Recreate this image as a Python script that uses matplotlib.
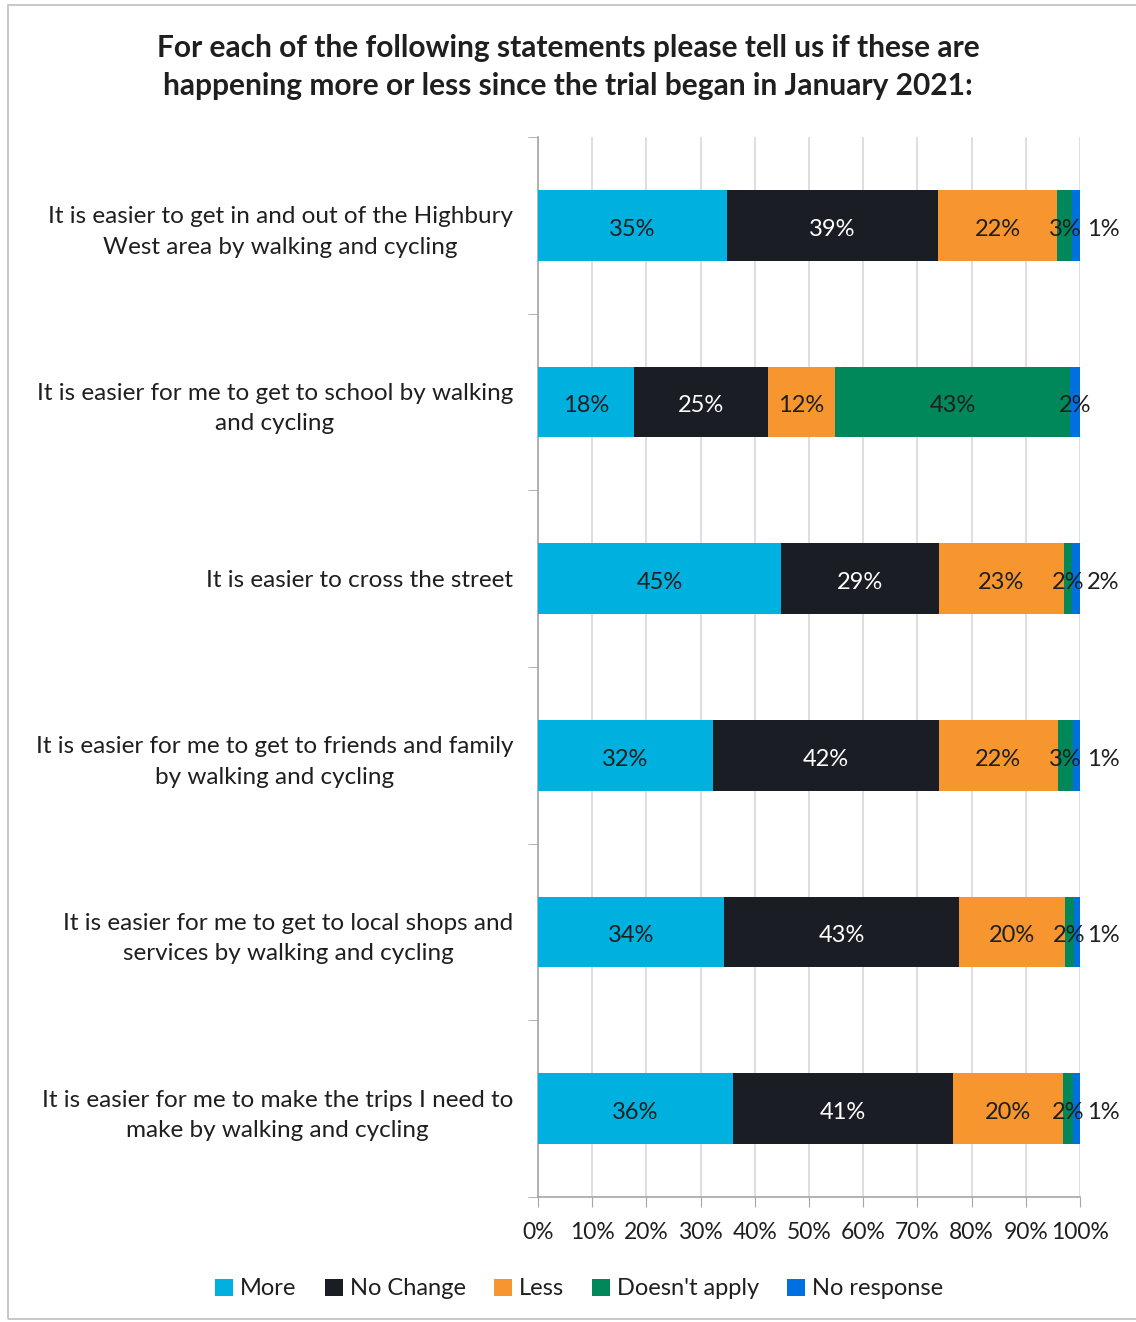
import matplotlib
matplotlib.use("Agg")
import matplotlib.pyplot as plt
from matplotlib.patches import Rectangle
import numpy as np

plt.rcParams['font.family'] = ['Lato', 'DejaVu Sans']

categories = [
    "It is easier to get in and out of the Highbury\nWest area by walking and cycling",
    "It is easier for me to get to school by walking\nand cycling",
    "It is easier to cross the street",
    "It is easier for me to get to friends and family\nby walking and cycling",
    "It is easier for me to get to local shops and\nservices by walking and cycling",
    "It is easier for me to make the trips I need to\nmake by walking and cycling",
]
series_names = ["More", "No Change", "Less", "Doesn't apply", "No response"]
more = [34.9, 17.7, 44.8, 32.3, 34.3, 36.0]
no_change = [38.9, 24.7, 29.2, 41.7, 43.4, 40.6]
less = [22.0, 12.4, 23.0, 21.9, 19.5, 20.3]
doesnt_apply = [2.8, 43.4, 1.5, 2.8, 1.7, 1.8]
no_response = [1.4, 1.8, 1.5, 1.3, 1.1, 1.3]
x_ticks = [0, 10, 20, 30, 40, 50, 60, 70, 80, 90, 100]
x_tick_labels = [f"{t}%" for t in x_ticks]

colors = ["#00B0DE", "#1A1D24", "#F7962F", "#00875A", "#0070E0"]
label_colors = ["#1F1F1F", "#FFFFFF", "#1F1F1F", "#1F1F1F", "#1F1F1F"]
# No response labels outside bar except row 2
nr_outside = [True, False, True, True, True, True]

fig = plt.figure(figsize=(11.36, 13.22), dpi=100)
ax = fig.add_axes([0.4736, 0.0946, 0.4771, 0.8018])

data = [more, no_change, less, doesnt_apply, no_response]
n = len(categories)
y = np.arange(n)
left = np.zeros(n)
for si, (vals, col) in enumerate(zip(data, colors)):
    vals = np.array(vals)
    ax.barh(y, vals, left=left, height=0.40, color=col, label=series_names[si], zorder=3)
    for i in range(n):
        cx = left[i] + vals[i] / 2
        if si == 4 and nr_outside[i]:
            cx = left[i] + vals[i] + 4.3
        ax.text(cx, y[i] + 0.01, f"{vals[i]:.0f}%", ha='center', va='center_baseline',
                fontsize=17, color=label_colors[si], zorder=4)
    left = left + vals

ax.set_xlim(0, 100)
ax.set_ylim(n - 0.5, -0.5)
ax.set_xticks(x_ticks)
ax.set_xticklabels(x_tick_labels, fontsize=16.5, color="#1F1F1F")
ax.set_yticks(y)
ax.set_yticklabels(categories, fontsize=17.5, color="#1F1F1F", linespacing=1.55)
for t in ax.get_yticklabels():
    t.set_horizontalalignment('right')
    t.set_multialignment('center')
ax.tick_params(axis='y', length=0, pad=18)
ax.set_yticks(np.arange(-0.5, n, 1), minor=True)
ax.tick_params(axis='y', which='minor', length=7, color="#A6A6A6", direction='out')
ax.tick_params(axis='x', length=7, color="#A6A6A6", direction='out', pad=11)
ax.grid(axis='x', color="#D9D9D9", linewidth=1.2, zorder=0)
for s in ['top', 'right']:
    ax.spines[s].set_visible(False)
for s in ['left', 'bottom']:
    ax.spines[s].set_color("#A6A6A6")
    ax.spines[s].set_linewidth(1.2)

fig.text(0.5, 0.9495, "For each of the following statements please tell us if these are\nhappening more or less since the trial began in January 2021:",
         ha='center', va='center', fontsize=21.5, fontweight='bold', color="#1F1F1F", linespacing=1.45)

handles, labels = ax.get_legend_handles_labels()
leg = fig.legend(handles, labels, loc='center', bbox_to_anchor=(0.51, 0.025), ncol=5,
                 frameon=False, fontsize=17, handlelength=0.75, handleheight=0.75,
                 handletextpad=0.3, columnspacing=1.2)
for t in leg.get_texts():
    t.set_color("#1F1F1F")

fig.patches.append(Rectangle((0.007, 0.002), 1.2, 0.994, transform=fig.transFigure,
                             fill=False, edgecolor="#BFBFBF", linewidth=1.2))

fig.savefig("out.png", dpi=100)
